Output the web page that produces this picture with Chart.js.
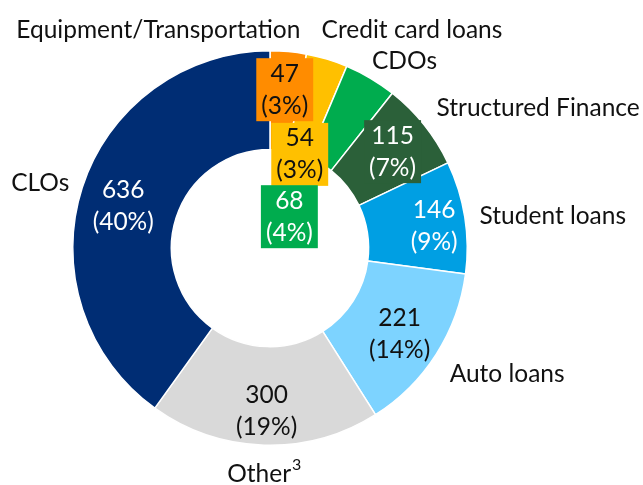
<!DOCTYPE html>
<html>
<head>
<meta charset="utf-8">
<script src="https://cdn.jsdelivr.net/npm/chart.js@4.4.1/dist/chart.umd.min.js"></script>
<style>
  html, body { margin: 0; padding: 0; background: #fff; }
  #wrap { width: 643px; height: 485px; position: relative; }
</style>
</head>
<body>
<div id="wrap"><canvas id="abs-donut"></canvas></div>
<script>
// values (clockwise from 12 o'clock)
let categories = ['Equipment/Transportation', 'Credit card loans', 'CDOs', 'Structured Finance', 'Student loans', 'Auto loans', 'Other', 'CLOs']
let footnotes = ['', '', '', '', '', '', '3', '']
let amounts = [47, 54, 68, 115, 146, 221, 300, 636]
let shares = ['3%', '3%', '4%', '7%', '9%', '14%', '19%', '40%']

// styling
let sliceColors = ['#FF8C00', '#FFC000', '#00AC4E', '#2B6039', '#009FE3', '#7DD3FF', '#D9D9D9', '#002D74']
let valueColors = ['#111', '#111', '#fff', '#fff', '#fff', '#111', '#111', '#fff']
let boxed = [true, true, true, true, false, false, false, false]
// nudges from the middle of each ring slice / from the outer edge
let innerNudge = [[1, -11], [-13, 48], [-56, 96], [7, -4], [18, 1], [5, 6], [1, 15], [-6, 3]]
let outerNudge = [[-130, -22], [85, -29], [34, -17], [114, -17], [88, -1], [71, 20], [-5, 29], [-42, -4]]

const FONT = '24.5px Lato'
const SUP_FONT = '16px Lato'
const LINE = 32

const donutLabels = {
  id: 'donutLabels',
  afterDatasetsDraw(chart) {
    let ctx = chart.ctx
    let meta = chart.getDatasetMeta(0)
    ctx.save()
    ctx.textAlign = 'center'
    ctx.textBaseline = 'middle'
    meta.data.forEach((arc, i) => {
      let p = arc.getProps(['x', 'y', 'startAngle', 'endAngle', 'innerRadius', 'outerRadius'], true)
      let mid = (p.startAngle + p.endAngle) / 2
      let rMid = (p.innerRadius + p.outerRadius) / 2
      let cx = p.x + Math.cos(mid) * rMid + innerNudge[i][0]
      let cy = p.y + Math.sin(mid) * rMid + innerNudge[i][1]
      let l1 = String(amounts[i])
      let l2 = '(' + shares[i] + ')'
      ctx.font = FONT
      if (boxed[i]) {
        let w = Math.max(ctx.measureText(l1).width, ctx.measureText(l2).width) + 10
        let h = LINE * 2 - 1
        ctx.fillStyle = sliceColors[i]
        ctx.fillRect(cx - w / 2, cy - h / 2, w, h)
      }
      ctx.fillStyle = valueColors[i]
      ctx.fillText(l1, cx, cy - LINE / 2)
      ctx.fillText(l2, cx, cy + LINE / 2)

      // category name outside the ring
      let ox = p.x + Math.cos(mid) * p.outerRadius + outerNudge[i][0]
      let oy = p.y + Math.sin(mid) * p.outerRadius + outerNudge[i][1]
      ctx.fillStyle = '#111'
      ctx.fillText(categories[i], ox, oy)
      if (footnotes[i]) {
        let half = ctx.measureText(categories[i]).width / 2
        ctx.font = SUP_FONT
        ctx.textAlign = 'left'
        ctx.fillText(footnotes[i], ox + half + 1, oy - 9)
        ctx.textAlign = 'center'
      }
    })
    ctx.restore()
  }
}

new Chart('abs-donut', {
  type: 'doughnut',
  data: {
    labels: categories,
    datasets: [
      {
        data: amounts,
        backgroundColor: sliceColors,
        borderColor: '#fff',
        borderWidth: 1.5
      }
    ]
  },
  options: {
    responsive: true,
    maintainAspectRatio: false,
    animation: false,
    cutout: '50%',
    layout: { padding: { left: 72, right: 175, top: 50, bottom: 39 } },
    plugins: {
      legend: { display: false },
      tooltip: { enabled: false }
    }
  },
  plugins: [donutLabels]
})
</script>
</body>
</html>
